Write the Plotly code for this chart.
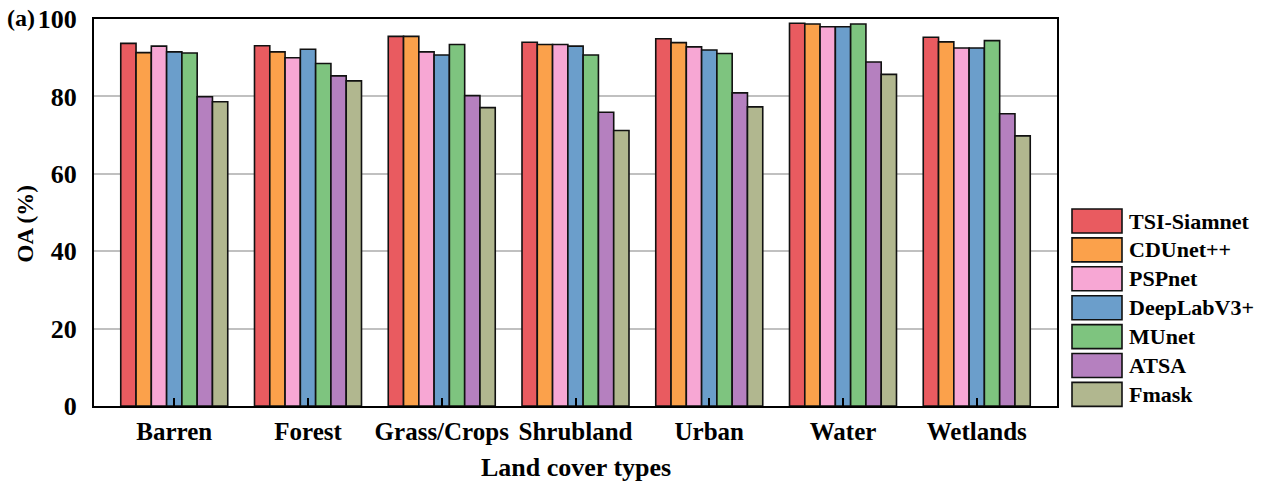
import plotly.graph_objects as go

categories = ["Barren", "Forest", "Grass/Crops", "Shrubland", "Urban", "Water", "Wetlands"]
models = ["TSI-Siamnet", "CDUnet++", "PSPnet", "DeepLabV3+", "MUnet", "ATSA", "Fmask"]
tsi_siamnet = [93.7, 93.1, 95.5, 94.0, 94.9, 98.9, 95.3]
cdunet = [91.3, 91.5, 95.5, 93.4, 93.9, 98.7, 94.1]
pspnet = [93.0, 90.0, 91.5, 93.4, 92.8, 98.0, 92.5]
deeplab = [91.5, 92.2, 90.7, 93.0, 92.0, 98.0, 92.5]
munet = [91.2, 88.5, 93.4, 90.7, 91.1, 98.7, 94.4]
atsa = [79.9, 85.3, 80.2, 75.9, 80.9, 88.9, 75.5]
fmask = [78.6, 84.0, 77.1, 71.2, 77.3, 85.7, 69.8]
series = [tsi_siamnet, cdunet, pspnet, deeplab, munet, atsa, fmask]
colors = ["#E95B60", "#FBA14B", "#F7A7D4", "#6B9ECB", "#7EC47F", "#B580BF", "#B1B78F"]
y_ticks = [0, 20, 40, 60, 80, 100]

FONT = "Liberation Serif"
W, H = 1266, 486
ML, MR, MT, MB = 94, 209, 19, 80
PW, PH = W - ML - MR, H - MT - MB

fig = go.Figure()
for name, vals, col in zip(models, series, colors):
    fig.add_trace(go.Bar(
        x=categories, y=vals, name=name, showlegend=False,
        marker=dict(color=col, line=dict(color="#111111", width=1.6)),
    ))

def px_to_paper(px, py):
    return (px - ML) / PW, (H - MB - py) / PH

# custom legend: large swatches with text to the right
for i, (name, col) in enumerate(zip(models, colors)):
    top = 209 + i * 28.9
    x0, y1 = px_to_paper(1072, top)
    x1, y0 = px_to_paper(1122, top + 24)
    fig.add_shape(type="rect", xref="paper", yref="paper", x0=x0, x1=x1, y0=y0, y1=y1,
                  fillcolor=col, line=dict(color="#111111", width=1.6))
    tx, ty = px_to_paper(1127, top + 12)
    fig.add_annotation(text=name, xref="paper", yref="paper", x=tx, y=ty,
                       xanchor="left", yanchor="middle", showarrow=False,
                       font=dict(family=FONT, size=22, color="black", weight="bold"))

fig.update_layout(
    width=W, height=H,
    margin=dict(l=ML, r=MR, t=MT, b=MB, autoexpand=False),
    paper_bgcolor="white", plot_bgcolor="white",
    barmode="group", bargap=0.2, bargroupgap=0,
    font=dict(family=FONT, color="black"),
    showlegend=False,
)
fig.update_xaxes(
    range=[-0.6, len(categories) - 0.4], automargin=False,
    showline=True, linecolor="black", linewidth=2, mirror=True,
    ticks="inside", ticklen=8, tickwidth=2, tickcolor="black",
    tickfont=dict(family=FONT, size=25, color="black", weight="bold"),
    ticklabelstandoff=2,
    showgrid=False,
)
fig.update_yaxes(
    range=[0, 100], tickvals=y_ticks, automargin=False,
    showline=True, linecolor="black", linewidth=2, mirror=True,
    ticks="", showgrid=True, gridcolor="#C0C0C0", gridwidth=1.5,
    tickfont=dict(family=FONT, size=26, color="black", weight="bold"),
    ticklabelstandoff=10,
    zeroline=False,
)
# axis titles
fig.add_annotation(
    text="OA (%)", xref="paper", yref="paper", x=0, y=0.5, xshift=-69, yshift=-12,
    textangle=-90, xanchor="center", yanchor="middle", showarrow=False,
    font=dict(family=FONT, size=23, color="black", weight="bold"),
)
fig.add_annotation(
    text="Land cover types", xref="paper", yref="paper", x=0.5, y=0, yshift=-61,
    xanchor="center", yanchor="middle", showarrow=False,
    font=dict(family=FONT, size=26, color="black", weight="bold"),
)
fig.add_annotation(
    text="(a)", xref="paper", yref="paper", x=0, y=1, xshift=-57, yshift=1,
    xanchor="right", yanchor="middle", showarrow=False,
    font=dict(family=FONT, size=24, color="black", weight="bold"),
)

fig.write_html("out.html")
